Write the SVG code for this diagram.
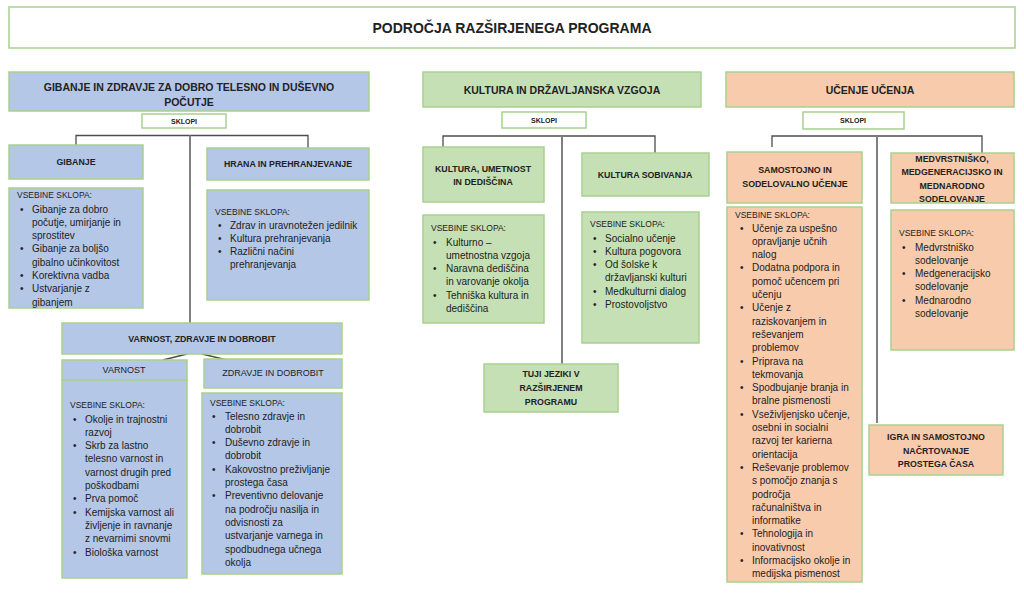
<svg xmlns="http://www.w3.org/2000/svg" width="1024" height="605" viewBox="0 0 1024 605">
<style>
.b{fill:#b4c7e7;stroke:#a9d18e;stroke-width:1.5}
.g{fill:#c5e0b4;stroke:#a9d18e;stroke-width:1.5}
.o{fill:#f8cbad;stroke:#a9d18e;stroke-width:1.5}
.w{fill:#ffffff;stroke:#a9d18e;stroke-width:1.5}
text{font-family:"Liberation Sans",Arial,sans-serif;fill:#222}
.h{font-size:10.5px;font-weight:bold;text-anchor:middle}
.s{font-size:8.8px;font-weight:bold;text-anchor:middle}
.k{font-size:7px;font-weight:bold;text-anchor:middle}
.r{font-size:9px;text-anchor:middle}
.v{font-size:8.5px}
.t{font-size:10px}
.ln{fill:none;stroke:#4d4d4d;stroke-width:1.3}
.mid{fill:none;stroke:#808080;stroke-width:2}
</style>

<g id="connectors">
<path class="ln" d="M76,145 V135.5 H308 V148"/>
<path class="mid" d="M190,135.5 V323"/>
<path class="ln" d="M187,354 L163,360 M202,354 L227,360"/>
<path class="ln" d="M443,147 V136 H655 V154"/>
<path class="mid" d="M562,136 V364"/>
<path class="ln" d="M772,147 V136 H982 V154"/>
<path class="mid" d="M877,136 V423"/>
</g>

<g id="title">
<rect class="w" x="9" y="7" width="1006" height="41"/>
<text x="512" y="33" style="font-size:14px;font-weight:bold;text-anchor:middle">PODROČJA RAZŠIRJENEGA PROGRAMA</text>
</g>

<!-- Column 1 -->
<g id="gibanje-zdravje">
<rect class="b" x="9" y="72" width="360" height="39"/>
<text class="h" x="189" y="91">GIBANJE IN ZDRAVJE ZA DOBRO TELESNO IN DUŠEVNO</text>
<text class="h" x="189" y="106">POČUTJE</text>
</g>
<g id="sklopi1">
<rect class="w" x="142" y="114" width="84" height="14"/>
<text class="k" x="184" y="123.5">SKLOPI</text>
</g>
<g id="gibanje">
<rect class="b" x="9" y="145" width="134" height="34"/>
<text class="s" x="76" y="165">GIBANJE</text>
</g>
<g id="gibanje-vsebine">
<rect class="b" x="9" y="188" width="134" height="120"/>
<text class="v" x="17" y="198">VSEBINE SKLOPA:</text>
<text class="t" x="20" y="212.5">•<tspan x="20" dy="39.9">•</tspan><tspan x="20" dy="26.6">•</tspan><tspan x="20" dy="13.3">•</tspan></text>
<text class="t" x="32" y="212.5">Gibanje za dobro<tspan x="32" dy="13.3">počutje, umirjanje in</tspan><tspan x="32" dy="13.3">sprostitev</tspan><tspan x="32" dy="13.3">Gibanje za boljšo</tspan><tspan x="32" dy="13.3">gibalno učinkovitost</tspan><tspan x="32" dy="13.3">Korektivna vadba</tspan><tspan x="32" dy="13.3">Ustvarjanje z</tspan><tspan x="32" dy="13.3">gibanjem</tspan></text>
</g>
<g id="hrana">
<rect class="b" x="207" y="148" width="162" height="32"/>
<text class="s" x="288" y="167">HRANA IN PREHRANJEVANJE</text>
</g>
<g id="hrana-vsebine">
<rect class="b" x="207" y="190" width="162" height="110"/>
<text class="v" x="215" y="215">VSEBINE SKLOPA:</text>
<text class="t" x="218" y="228.5">•<tspan x="218" dy="13.3">•</tspan><tspan x="218" dy="13.3">•</tspan></text>
<text class="t" x="230" y="228.5">Zdrav in uravnotežen jedilnik<tspan x="230" dy="13.3">Kultura prehranjevanja</tspan><tspan x="230" dy="13.3">Različni načini</tspan><tspan x="230" dy="13.3">prehranjevanja</tspan></text>
</g>
<g id="varnost-zdravje">
<rect class="b" x="62" y="323" width="280" height="31"/>
<text class="s" x="202" y="341.5">VARNOST, ZDRAVJE IN DOBROBIT</text>
</g>
<g id="varnost">
<rect class="b" x="62" y="360" width="125" height="20"/>
<text class="r" x="124" y="373">VARNOST</text>
<rect class="b" x="62" y="380" width="125" height="198"/>
<text class="v" x="70" y="408">VSEBINE SKLOPA:</text>
<text class="t" x="73" y="422.5">•<tspan x="73" dy="26.6">•</tspan><tspan x="73" dy="53.2">•</tspan><tspan x="73" dy="13.3">•</tspan><tspan x="73" dy="39.9">•</tspan></text>
<text class="t" x="85" y="422.5">Okolje in trajnostni<tspan x="85" dy="13.3">razvoj</tspan><tspan x="85" dy="13.3">Skrb za lastno</tspan><tspan x="85" dy="13.3">telesno varnost in</tspan><tspan x="85" dy="13.3">varnost drugih pred</tspan><tspan x="85" dy="13.3">poškodbami</tspan><tspan x="85" dy="13.3">Prva pomoč</tspan><tspan x="85" dy="13.3">Kemijska varnost ali</tspan><tspan x="85" dy="13.3">življenje in ravnanje</tspan><tspan x="85" dy="13.3">z nevarnimi snovmi</tspan><tspan x="85" dy="13.3">Biološka varnost</tspan></text>
</g>
<g id="zdravje-dobrobit">
<rect class="b" x="204" y="359" width="138" height="29"/>
<text class="r" x="273" y="376">ZDRAVJE  IN DOBROBIT</text>
<rect class="b" x="202" y="393" width="140" height="181"/>
<text class="v" x="210" y="406">VSEBINE SKLOPA:</text>
<text class="t" x="212" y="419.5">•<tspan x="212" dy="26.6">•</tspan><tspan x="212" dy="26.6">•</tspan><tspan x="212" dy="26.6">•</tspan></text>
<text class="t" x="225" y="419.5">Telesno zdravje in<tspan x="225" dy="13.3">dobrobit</tspan><tspan x="225" dy="13.3">Duševno zdravje in</tspan><tspan x="225" dy="13.3">dobrobit</tspan><tspan x="225" dy="13.3">Kakovostno preživljanje</tspan><tspan x="225" dy="13.3">prostega časa</tspan><tspan x="225" dy="13.3">Preventivno delovanje</tspan><tspan x="225" dy="13.3">na področju nasilja in</tspan><tspan x="225" dy="13.3">odvisnosti za</tspan><tspan x="225" dy="13.3">ustvarjanje varnega in</tspan><tspan x="225" dy="13.3">spodbudnega učnega</tspan><tspan x="225" dy="13.3">okolja</tspan></text>
</g>

<!-- Column 2 -->
<g id="kultura-drzavljanska">
<rect class="g" x="423" y="72" width="278" height="35"/>
<text class="h" x="562" y="93.5">KULTURA IN DRŽAVLJANSKA VZGOJA</text>
</g>
<g id="sklopi2">
<rect class="w" x="502" y="112" width="84" height="16"/>
<text class="k" x="544" y="122.5">SKLOPI</text>
</g>
<g id="kultura-umetnost">
<rect class="g" x="423" y="147" width="121" height="55"/>
<text class="s" x="483" y="172">KULTURA,  UMETNOST</text>
<text class="s" x="483" y="184.5">IN DEDIŠČINA</text>
</g>
<g id="kultura-umetnost-vsebine">
<rect class="g" x="423" y="215" width="121" height="108"/>
<text class="v" x="431" y="231">VSEBINE SKLOPA:</text>
<text class="t" x="433" y="245.5">•<tspan x="433" dy="26.6">•</tspan><tspan x="433" dy="26.6">•</tspan></text>
<text class="t" x="446" y="245.5">Kulturno –<tspan x="446" dy="13.3">umetnostna vzgoja</tspan><tspan x="446" dy="13.3">Naravna dediščina</tspan><tspan x="446" dy="13.3">in varovanje okolja</tspan><tspan x="446" dy="13.3">Tehniška kultura in</tspan><tspan x="446" dy="13.3">dediščina</tspan></text>
</g>
<g id="kultura-sobivanja">
<rect class="g" x="582" y="153" width="127" height="43"/>
<text class="s" x="645" y="178">KULTURA  SOBIVANJA</text>
</g>
<g id="kultura-sobivanja-vsebine">
<rect class="g" x="582" y="212" width="117" height="131"/>
<text class="v" x="590" y="227">VSEBINE SKLOPA:</text>
<text class="t" x="593" y="241.5">•<tspan x="593" dy="13.3">•</tspan><tspan x="593" dy="13.3">•</tspan><tspan x="593" dy="26.6">•</tspan><tspan x="593" dy="13.3">•</tspan></text>
<text class="t" x="605" y="241.5">Socialno učenje<tspan x="605" dy="13.3">Kultura pogovora</tspan><tspan x="605" dy="13.3">Od šolske k</tspan><tspan x="605" dy="13.3">državljanski kulturi</tspan><tspan x="605" dy="13.3">Medkulturni dialog</tspan><tspan x="605" dy="13.3">Prostovoljstvo</tspan></text>
</g>
<g id="tuji-jeziki">
<rect class="g" x="484" y="364" width="134" height="48"/>
<text class="s" x="551" y="377">TUJI JEZIKI  V</text>
<text class="s" x="551" y="391">RAZŠIRJENEM</text>
<text class="s" x="551" y="405">PROGRAMU</text>
</g>

<!-- Column 3 -->
<g id="ucenje-ucenja">
<rect class="o" x="726" y="72" width="288" height="35"/>
<text class="h" x="870" y="93.5">UČENJE UČENJA</text>
</g>
<g id="sklopi3">
<rect class="w" x="803" y="112" width="101" height="17"/>
<text class="k" x="853" y="123">SKLOPI</text>
</g>
<g id="samostojno">
<rect class="o" x="727" y="152" width="135" height="51"/>
<text class="s" x="795" y="173">SAMOSTOJNO  IN</text>
<text class="s" x="795" y="187">SODELOVALNO UČENJE</text>
</g>
<g id="samostojno-vsebine">
<rect class="o" x="727" y="207" width="135" height="375"/>
<text class="v" x="735" y="218">VSEBINE SKLOPA:</text>
<text class="t" x="740" y="231.5">•<tspan x="740" dy="39.9">•</tspan><tspan x="740" dy="39.9">•</tspan><tspan x="740" dy="53.2">•</tspan><tspan x="740" dy="26.6">•</tspan><tspan x="740" dy="26.6">•</tspan><tspan x="740" dy="53.2">•</tspan><tspan x="740" dy="66.5">•</tspan><tspan x="740" dy="26.6">•</tspan></text>
<text class="t" x="752" y="231.5">Učenje za uspešno<tspan x="752" dy="13.3">opravljanje učnih</tspan><tspan x="752" dy="13.3">nalog</tspan><tspan x="752" dy="13.3">Dodatna podpora in</tspan><tspan x="752" dy="13.3">pomoč učencem  pri</tspan><tspan x="752" dy="13.3">učenju</tspan><tspan x="752" dy="13.3">Učenje z</tspan><tspan x="752" dy="13.3">raziskovanjem in</tspan><tspan x="752" dy="13.3">reševanjem</tspan><tspan x="752" dy="13.3">problemov</tspan><tspan x="752" dy="13.3">Priprava na</tspan><tspan x="752" dy="13.3">tekmovanja</tspan><tspan x="752" dy="13.3">Spodbujanje branja in</tspan><tspan x="752" dy="13.3">bralne pismenosti</tspan><tspan x="752" dy="13.3">Vseživljenjsko učenje,</tspan><tspan x="752" dy="13.3">osebni in socialni</tspan><tspan x="752" dy="13.3">razvoj ter karierna</tspan><tspan x="752" dy="13.3">orientacija</tspan><tspan x="752" dy="13.3">Reševanje problemov</tspan><tspan x="752" dy="13.3">s pomočjo znanja s</tspan><tspan x="752" dy="13.3">področja</tspan><tspan x="752" dy="13.3">računalništva in</tspan><tspan x="752" dy="13.3">informatike</tspan><tspan x="752" dy="13.3">Tehnologija in</tspan><tspan x="752" dy="13.3">inovativnost</tspan><tspan x="752" dy="13.3">Informacijsko okolje in</tspan><tspan x="752" dy="13.3">medijska pismenost</tspan></text>
</g>
<g id="medvrstnisko">
<rect class="o" x="891" y="153" width="123" height="50"/>
<text class="s" x="952" y="162">MEDVRSTNIŠKO,</text>
<text class="s" x="952" y="175">MEDGENERACIJSKO  IN</text>
<text class="s" x="952" y="188.5">MEDNARODNO</text>
<text class="s" x="952" y="201.5">SODELOVANJE</text>
</g>
<g id="medvrstnisko-vsebine">
<rect class="o" x="891" y="210" width="123" height="140"/>
<text class="v" x="899" y="236">VSEBINE SKLOPA:</text>
<text class="t" x="902" y="250.5">•<tspan x="902" dy="26.6">•</tspan><tspan x="902" dy="26.6">•</tspan></text>
<text class="t" x="915" y="250.5">Medvrstniško<tspan x="915" dy="13.3">sodelovanje</tspan><tspan x="915" dy="13.3">Medgeneracijsko</tspan><tspan x="915" dy="13.3">sodelovanje</tspan><tspan x="915" dy="13.3">Mednarodno</tspan><tspan x="915" dy="13.3">sodelovanje</tspan></text>
</g>
<g id="igra">
<rect class="o" x="869" y="425" width="134" height="50"/>
<text class="s" x="936" y="440">IGRA IN SAMOSTOJNO</text>
<text class="s" x="936" y="453.5">NAČRTOVANJE</text>
<text class="s" x="936" y="467">PROSTEGA  ČASA</text>
</g>
</svg>
